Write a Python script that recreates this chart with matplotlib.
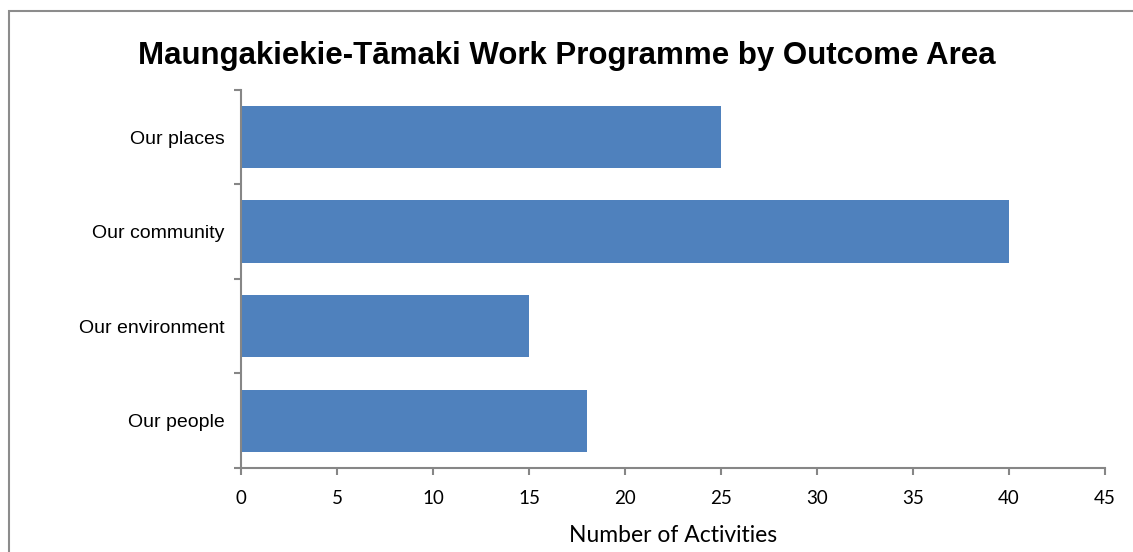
import matplotlib.pyplot as plt
from matplotlib.patches import Rectangle

# Chart data
categories = ['Our people', 'Our environment', 'Our community', 'Our places']
activities = [18, 15, 40, 25]
x_ticks = [0, 5, 10, 15, 20, 25, 30, 35, 40, 45]

title = 'Maungakiekie-Tāmaki Work Programme by Outcome Area'
x_label = 'Number of Activities'

fig = plt.figure(figsize=(11.33, 5.52), dpi=100)
ax = fig.add_axes([0.2127, 0.1522, 0.7626, 0.685])

# Outer frame (only left and top visible in the reference)
fig.patches.append(Rectangle((9 / 1133, -0.1), 1.2, 1 - 11 / 552 + 0.1,
                             transform=fig.transFigure, fill=False,
                             edgecolor='#8c8c8c', linewidth=1.5))

positions = list(range(len(categories)))
ax.barh(positions, activities, height=0.66, color='#4f81bd')

ax.set_xlim(0, 45)
ax.set_ylim(-0.5, len(categories) - 0.5)
ax.set_xticks(x_ticks)
ax.set_xticklabels([str(t) for t in x_ticks], fontsize=13.5, family='Lato')

# Category labels centered, tick marks at boundaries
ax.set_yticks(positions)
ax.set_yticklabels(categories, fontsize=14, family='Liberation Sans')
ax.set_yticks([p - 0.5 for p in range(len(categories) + 1)], minor=True)
ax.tick_params(axis='y', which='major', length=0, pad=12)
ax.tick_params(axis='y', which='minor', length=5, width=1.5, color='#868686')
ax.tick_params(axis='x', length=5, width=1.5, color='#868686', pad=11)

for side in ['top', 'right']:
    ax.spines[side].set_visible(False)
for side in ['left', 'bottom']:
    ax.spines[side].set_color('#868686')
    ax.spines[side].set_linewidth(1.5)

ax.set_xlabel(x_label, fontsize=16.5, family='Lato', labelpad=13)
fig.text(0.5, 0.899, title, ha='center', va='center', fontsize=22.5,
         fontweight='bold', family='Liberation Sans')

fig.savefig('out.png', dpi=100)
